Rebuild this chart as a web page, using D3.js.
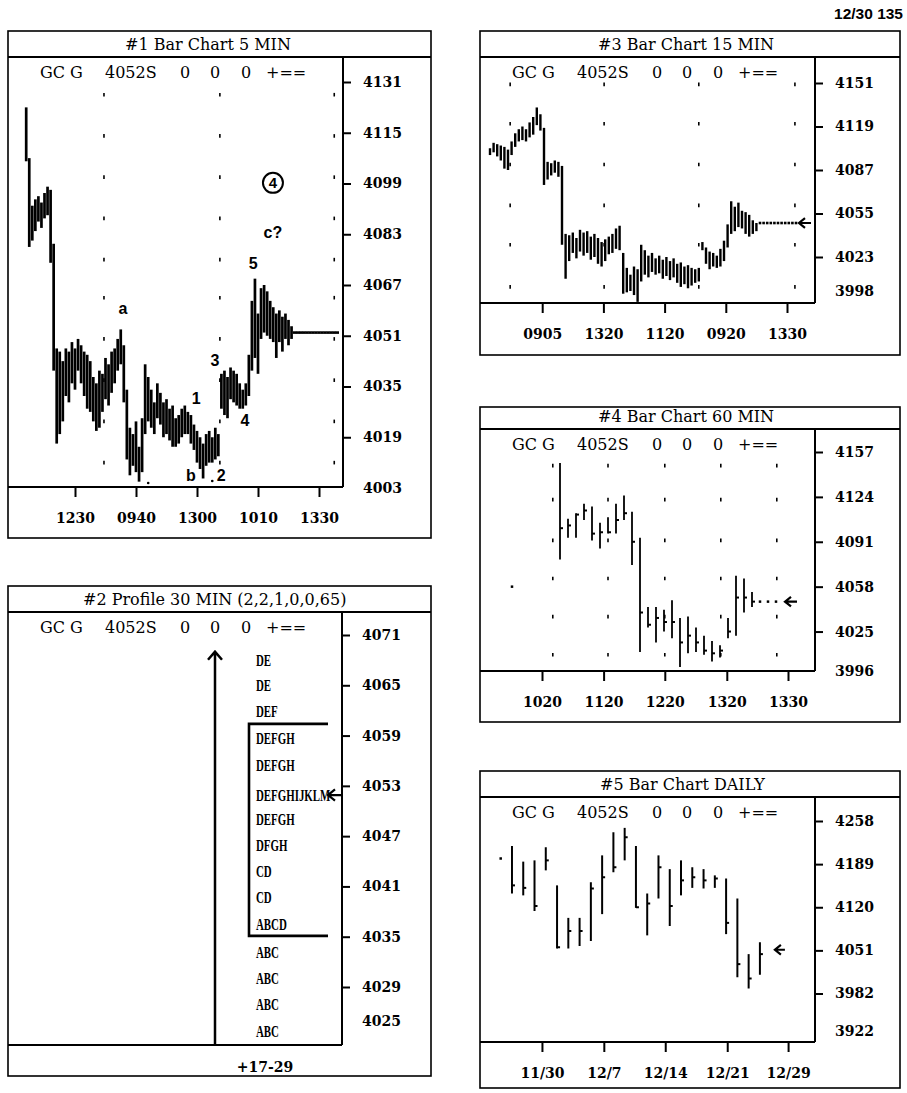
<!DOCTYPE html>
<html><head><meta charset="utf-8">
<script src="https://cdn.jsdelivr.net/npm/d3@7"></script>
<style>html,body{margin:0;padding:0;background:#fff}svg{display:block}</style>
</head><body>
<script>
// ---------------- DATA ----------------
const headerItems = ["GC G", "4052S", "0", "0", "0", "+=="];
const stamp = "12/30 135";

// #1 Bar Chart 5 MIN
const p1High = [4123,4107,4092,4094,4095,4093,4096,4098,4097,4080,4047,4046,4043,4047,4046,4049,4047,4050,4048,4046,4045,4043,4038,4036,4040,4039,4044,4042,4046,4047,4050,4053,4048,4034,4022,4020,4024,4016,4025,4042,4038,4034,4030,4036,4033,4030,4031,4028,4029,4025,4026,4028,4029,4027,4026,4023,4021,4019,4017,4020,4021,4019,4022,4020,4039,4040,4038,4041,4040,4039,4036,4034,4036,4045,4062,4069,4058,4066,4067,4065,4062,4060,4058,4059,4057,4058,4056,4054,4052,4052,4052,4052,4052,4052,4052,4052,4052,4052,4052,4052,4052,4052,4052];
const p1Low  = [4106,4079,4081,4084,4087,4085,4088,4089,4074,4040,4017,4020,4024,4032,4030,4036,4034,4040,4036,4032,4028,4027,4024,4021,4022,4027,4031,4029,4033,4036,4040,4042,4030,4012,4007,4010,4008,4005,4008,4020,4024,4022,4020,4025,4023,4019,4020,4018,4016,4016,4017,4019,4020,4020,4017,4015,4011,4009,4006,4010,4011,4011,4012,4013,4028,4026,4025,4031,4030,4029,4028,4028,4029,4032,4040,4044,4039,4050,4052,4051,4050,4049,4044,4049,4046,4050,4048,4050,4052,4052,4052,4052,4052,4052,4052,4052,4052,4052,4052,4052,4052,4052,4052];
const p1YTicks = [4131,4115,4099,4083,4067,4051,4035,4019];
const p1YBottom = 4003;
const p1XTickIdx = [16,36,56,76,96];
const p1XLabels = ["1230","0940","1300","1010","1330"];
const p1GridCols = [25.5,63.5,101];
const p1GridRows = [4127,4114,4101,4088,4075,4063,4050,4037,4024,4011];
const p1AnnText = ["a","b","2","1","3","4","5","c?"];
const p1AnnIdx  = [31.7,54,63.9,55.7,61.9,71.7,74.4,80.9];
const p1AnnVal  = [4059.8,4007.1,4007.1,4031.4,4043.4,4024.4,4073.9,4083.7];
const p1Circled = {text:"4", idx:80.9, val:4099.2};
const p1MarkIdx = [61,40];
const p1MarkVal = [4005.2,4004.6];

// #2 Profile 30 MIN
const p2Letters = ["DE","DE","DEF","DEFGH","DEFGH","DEFGHIJKLM","DEFGH","DFGH","CD","CD","ABCD","ABC","ABC","ABC","ABC"];
const p2Prices  = [4068,4065,4061.9,4058.7,4055.5,4051.9,4049,4045.9,4042.8,4039.7,4036.5,4033.2,4030.1,4027,4023.8];
const p2ValueArea = [4060.4,4035.1];
const p2YTicks = [4071,4065,4059,4053,4047,4041,4035,4029];
const p2YBottom = 4025;
const p2XLabel = "+17-29";
const p2Last = 4051.9;
const p2ArrowTop = 4069;

// #3 Bar Chart 15 MIN
const p3High = [4103,4107,4106,4105,4104,4102,4108,4114,4117,4119,4117,4122,4126,4133,4128,4118,4093,4092,4094,4093,4090,4040,4039,4041,4037,4043,4041,4042,4038,4040,4037,4034,4036,4038,4040,4044,4046,4026,4015,4010,4016,4014,4032,4028,4024,4026,4022,4024,4021,4023,4020,4022,4018,4019,4016,4017,4015,4014,4015,4034,4030,4027,4026,4024,4029,4035,4047,4064,4060,4063,4057,4056,4054,4050,4048,4048,4048,4048,4048,4048,4048,4048,4048,4048,4048,4048];
const p3Low  = [4098,4100,4097,4094,4088,4087,4098,4104,4108,4109,4108,4111,4113,4120,4116,4076,4080,4083,4085,4082,4032,4007,4020,4026,4022,4027,4024,4026,4021,4023,4018,4016,4020,4025,4026,4029,4028,3996,3997,3998,3995,3990,4005,4010,4008,4012,4010,4011,4007,4009,4006,4008,4004,4001,4003,4000,4002,4004,4005,4028,4018,4014,4016,4015,4016,4020,4030,4040,4042,4045,4044,4040,4038,4040,4042,4048,4048,4048,4048,4048,4048,4048,4048,4048,4048,4048];
const p3YTicks = [4151,4119,4087,4055,4023];
const p3YBottom = 3998;
const p3XTickIdx = [14.5,31.5,48.5,65.5,82.5];
const p3XLabels = ["0905","1320","1120","0920","1330"];
const p3GridCols = [5.6,31.7,58,84.7];
const p3GridRows = [4150,4121,4091,4061,4032,4001];
const p3Last = 4048;

// #4 Bar Chart 60 MIN
const p4High  = [4058,null,null,null,null,null,4149,4108,4112,4119,4117,4105,4109,4119,4125,4113,4094,4043,4043,4041,4048,4035,4036,4028,4022,4018,4015,4035,4066,4064,4054,4047,4047,4047];
const p4Low   = [4058,null,null,null,null,null,4078,4094,4094,4107,4092,4086,4097,4097,4107,4074,4010,4028,4017,4025,4020,3999,4009,4010,4008,4003,4006,4020,4022,4039,4043,4047,4047,4047];
const p4Close = [4058,null,null,null,null,null,4101,4103,4111,4114,4097,4098,4098,4107,4112,4091,4039,4030,4035,4032,4032,4017,4022,4017,4011,4009,4011,4025,4050,4050,4047,4047,4047,4047];
const p4YTicks = [4157,4124,4091,4058,4025];
const p4YBottom = 3996;
const p4XTickIdx = [3.75,11.45,19.1,26.85,34.5];
const p4XLabels = ["1020","1120","1220","1320","1330"];
const p4GridCols = [5.1,12,19.1,26.1,33.1];
const p4GridRows = [4147,4122,4092,4064,4036,4008];
const p4Last = 4047;

// #5 Bar Chart DAILY
const p5High  = [4198,4218,4193,4195,4216,4155,4103,4103,4160,4203,4240,4247,4218,4142,4203,4181,4195,4184,4181,4171,4166,4134,4045,4064];
const p5Low   = [4198,4142,4139,4114,4179,4054,4054,4058,4066,4109,4176,4195,4119,4075,4134,4090,4139,4151,4150,4151,4077,4008,3990,4012];
const p5Close = [4198,4155,4151,4122,4195,4056,4082,4082,4150,4168,4184,4232,4120,4126,4184,4122,4163,4168,4163,4166,4095,4029,4006,4045];
const p5YTicks = [4258,4189,4120,4051,3982];
const p5YBottom = 3922;
const p5XTickIdx = [3.66,9.15,14.6,20.1,25.5];
const p5XLabels = ["11/30","12/7","12/14","12/21","12/29"];
const p5Last = 4052;

// ---------------- DRAWING ----------------
const W = 907, H = 1093;
const SERIF = "'DejaVu Serif', serif";
const SANS = "'Liberation Sans', Arial, sans-serif";
const TIMES = "'Liberation Serif', 'Times New Roman', serif";

const svg = d3.select("body").append("svg").attr("width", W).attr("height", H);
svg.append("rect").attr("width", W).attr("height", H).attr("fill", "#fff");

svg.append("text").attr("x", 903).attr("y", 19).attr("text-anchor", "end")
  .attr("font-family", SANS).attr("font-weight", "bold").attr("font-size", 15.5).text(stamp);

function frame(p) {
  const g = svg.append("g");
  g.append("rect").attr("x", p.bx[0]).attr("y", p.by[0])
    .attr("width", p.bx[1] - p.bx[0]).attr("height", p.by[1] - p.by[0])
    .attr("fill", "none").attr("stroke", "#000").attr("stroke-width", 1.6);
  g.append("line").attr("x1", p.bx[0]).attr("x2", p.bx[1]).attr("y1", p.ty).attr("y2", p.ty)
    .attr("stroke", "#000").attr("stroke-width", 2);
  g.append("text").attr("x", p.tx).attr("y", p.ty - 7).attr("font-family", SERIF)
    .attr("font-size", 16).text(p.title);
  const hx = [32, 97, 177, 207, 238, 258];
  const anc = ["start", "start", "middle", "middle", "middle", "start"];
  g.selectAll("text.hdr").data(headerItems).join("text").attr("class", "hdr")
    .attr("x", (d, i) => p.bx[0] + hx[i]).attr("y", p.ty + 21)
    .attr("text-anchor", (d, i) => anc[i]).attr("font-family", SERIF).attr("font-size", 16)
    .text(d => d);
  g.append("line").attr("x1", p.pr).attr("x2", p.pr).attr("y1", p.ty).attr("y2", p.pb)
    .attr("stroke", "#000").attr("stroke-width", 2);
  g.append("line").attr("x1", p.bx[0]).attr("x2", p.pr).attr("y1", p.pb).attr("y2", p.pb)
    .attr("stroke", "#000").attr("stroke-width", 2);
  return g;
}

function yAxis(g, p, y, ticks, bottom) {
  const a = g.append("g").attr("transform", `translate(${p.pr},0)`)
    .call(d3.axisRight(y).tickValues(ticks).tickSize(8).tickPadding(12).tickFormat(d3.format("d")));
  const b = g.append("g").attr("transform", `translate(${p.pr},0)`)
    .call(d3.axisRight(y).tickValues([bottom]).tickSize(0).tickPadding(20).tickFormat(d3.format("d")));
  [a, b].forEach(s => {
    s.select(".domain").remove();
    s.selectAll("line").attr("stroke", "#000").attr("stroke-width", 2);
    s.selectAll("text").attr("font-family", SERIF).attr("font-weight", "bold").attr("font-size", 14).attr("fill", "#000");
  });
}

function xAxis(g, p, x, idx, labels) {
  const a = g.append("g").attr("transform", `translate(0,${p.pb})`)
    .call(d3.axisBottom(x).tickValues(idx).tickSize(10).tickPadding(16).tickFormat((d, i) => labels[i]));
  a.select(".domain").remove();
  a.selectAll("line").attr("stroke", "#000").attr("stroke-width", 2);
  a.selectAll("text").attr("font-family", SERIF).attr("font-weight", "bold").attr("font-size", 14).attr("fill", "#000");
}

function gridDots(g, x, y, cols, rows) {
  const pts = [];
  cols.forEach(c => rows.forEach(r => pts.push([c, r])));
  g.selectAll("line.gd").data(pts).join("line").attr("class", "gd")
    .attr("x1", d => x(d[0])).attr("x2", d => x(d[0]))
    .attr("y1", d => y(d[1]) - 1.8).attr("y2", d => y(d[1]) + 1.8)
    .attr("stroke", "#000").attr("stroke-width", 1.6);
}

function bars(g, x, y, hi, lo, cl, opt) {
  const d = hi.map((h, i) => ({ i, h, l: lo[i], c: cl ? cl[i] : null })).filter(d => d.h != null);
  g.selectAll(null).data(d.filter(d => d.h > d.l)).join("line")
    .attr("x1", d => x(d.i)).attr("x2", d => x(d.i))
    .attr("y1", d => y(d.h)).attr("y2", d => y(d.l))
    .attr("stroke", "#000").attr("stroke-width", opt.w);
  g.selectAll(null).data(d.filter(d => d.h === d.l)).join("line")
    .attr("x1", d => x(d.i) - opt.flat / 2).attr("x2", d => x(d.i) + opt.flat / 2)
    .attr("y1", d => y(d.h)).attr("y2", d => y(d.h))
    .attr("stroke", "#000").attr("stroke-width", opt.fw);
  if (cl) {
    g.selectAll(null).data(d.filter(d => d.h > d.l && d.c != null)).join("line")
      .attr("x1", d => x(d.i)).attr("x2", d => x(d.i) + 3)
      .attr("y1", d => y(d.c)).attr("y2", d => y(d.c))
      .attr("stroke", "#000").attr("stroke-width", 2);
  }
}

function arrowLeft(g, xTip, yy, len, head) {
  g.append("path")
    .attr("d", `M${xTip + len},${yy}L${xTip},${yy}M${xTip + head},${yy - head * 0.8}L${xTip},${yy}L${xTip + head},${yy + head * 0.8}`)
    .attr("fill", "none").attr("stroke", "#000").attr("stroke-width", 2.2);
}

// ---- Panel 1 ----
{
  const p = { bx: [8, 431], by: [31, 538], ty: 57, pr: 343, pb: 487, tx: 125, title: "#1 Bar Chart 5 MIN" };
  const g = frame(p);
  const y = d3.scaleLinear().domain([4003, 4131]).range([488, 82]);
  const x = d3.scaleLinear().domain([0, 100]).range([26.2, 26.2 + 305]);
  yAxis(g, p, y, p1YTicks, p1YBottom);
  xAxis(g, p, x, p1XTickIdx, p1XLabels);
  gridDots(g, x, y, p1GridCols, p1GridRows);
  bars(g, x, y, p1High, p1Low, null, { w: 2.7, flat: 3.4, fw: 2.6 });
  g.selectAll("text.ann").data(p1AnnText).join("text").attr("class", "ann")
    .attr("x", (d, i) => x(p1AnnIdx[i])).attr("y", (d, i) => y(p1AnnVal[i]) + 6)
    .attr("text-anchor", "middle").attr("font-family", SANS).attr("font-weight", "bold")
    .attr("font-size", 16).text(d => d);
  g.append("circle").attr("cx", x(p1Circled.idx)).attr("cy", y(p1Circled.val)).attr("r", 10)
    .attr("fill", "none").attr("stroke", "#000").attr("stroke-width", 2);
  g.append("text").attr("x", x(p1Circled.idx)).attr("y", y(p1Circled.val) + 5.5)
    .attr("text-anchor", "middle").attr("font-family", SANS).attr("font-weight", "bold")
    .attr("font-size", 15).text(p1Circled.text);
  g.selectAll("circle.mk").data(p1MarkIdx).join("circle").attr("class", "mk")
    .attr("cx", (d, i) => x(d)).attr("cy", (d, i) => y(p1MarkVal[i])).attr("r", 1.3).attr("fill", "#000");
}

// ---- Panel 2 ----
{
  const p = { bx: [8, 431], by: [586, 1076], ty: 612, pr: 342, pb: 1045, tx: 83, title: "#2 Profile 30 MIN (2,2,1,0,0,65)" };
  const g = frame(p);
  const y = d3.scaleLinear().domain([4029, 4071]).range([987, 635]);
  yAxis(g, p, y, p2YTicks, p2YBottom);
  g.append("text").attr("x", 265).attr("y", p.pb + 27).attr("text-anchor", "middle")
    .attr("font-family", SERIF).attr("font-weight", "bold").attr("font-size", 14).text(p2XLabel);
  const ax = 215;
  g.append("path").attr("d", `M${ax},${p.pb}L${ax},${y(p2ArrowTop)}M${ax - 7},${y(p2ArrowTop) + 8}L${ax},${y(p2ArrowTop)}L${ax + 7},${y(p2ArrowTop) + 8}`)
    .attr("fill", "none").attr("stroke", "#000").attr("stroke-width", 2.5);
  g.selectAll("text.tpo").data(p2Letters).join("text").attr("class", "tpo")
    .attr("transform", (d, i) => `translate(256,${y(p2Prices[i]) + 6}) scale(0.64,1)`)
    .attr("font-family", TIMES).attr("font-weight", "bold").attr("font-size", 17).text(d => d);
  const vx1 = 249, vx2 = 328;
  g.append("path").attr("d", `M${vx2},${y(p2ValueArea[0])}L${vx1},${y(p2ValueArea[0])}L${vx1},${y(p2ValueArea[1])}L${vx2},${y(p2ValueArea[1])}`)
    .attr("fill", "none").attr("stroke", "#000").attr("stroke-width", 2.6);
  arrowLeft(g, 328, y(p2Last), 14, 7);
}

// ---- Panel 3 ----
{
  const p = { bx: [480, 900], by: [31, 355], ty: 57, pr: 815, pb: 303, tx: 598, title: "#3 Bar Chart 15 MIN" };
  const g = frame(p);
  const y = d3.scaleLinear().domain([4023, 4151]).range([257, 83]);
  const x = d3.scaleLinear().domain([0, 100]).range([490, 850]);
  yAxis(g, p, y, p3YTicks, p3YBottom);
  xAxis(g, p, x, p3XTickIdx, p3XLabels);
  gridDots(g, x, y, p3GridCols, p3GridRows);
  bars(g, x, y, p3High, p3Low, null, { w: 2.4, flat: 2.6, fw: 2.6 });
  arrowLeft(g, x(p3High.length - 1) + 3, y(p3Last), 12, 6);
}

// ---- Panel 4 ----
{
  const p = { bx: [480, 900], by: [407, 722], ty: 429, pr: 815, pb: 671, tx: 598, title: "#4 Bar Chart 60 MIN" };
  const g = frame(p);
  const y = d3.scaleLinear().domain([3996, 4157]).range([671, 452]);
  const x = d3.scaleLinear().domain([0, 10]).range([512, 592]);
  yAxis(g, p, y, p4YTicks, p4YBottom);
  xAxis(g, p, x, p4XTickIdx, p4XLabels);
  gridDots(g, x, y, p4GridCols, p4GridRows);
  bars(g, x, y, p4High, p4Low, p4Close, { w: 1.8, flat: 2.5, fw: 2.5 });
  arrowLeft(g, x(p4High.length - 1) + 9, y(p4Last), 12, 6);
}

// ---- Panel 5 ----
{
  const p = { bx: [480, 900], by: [771, 1088], ty: 797, pr: 815, pb: 1042, tx: 600, title: "#5 Bar Chart DAILY" };
  const g = frame(p);
  const y = d3.scaleLinear().domain([3922, 4258]).range([1031, 821]);
  const x = d3.scaleLinear().domain([0, 10]).range([500.7, 613.4]);
  yAxis(g, p, y, p5YTicks, p5YBottom);
  xAxis(g, p, x, p5XTickIdx, p5XLabels);
  bars(g, x, y, p5High, p5Low, p5Close, { w: 2, flat: 2.5, fw: 2.5 });
  arrowLeft(g, x(p5High.length - 1) + 15, y(p5Last), 10, 6);
}
</script>
</body></html>
